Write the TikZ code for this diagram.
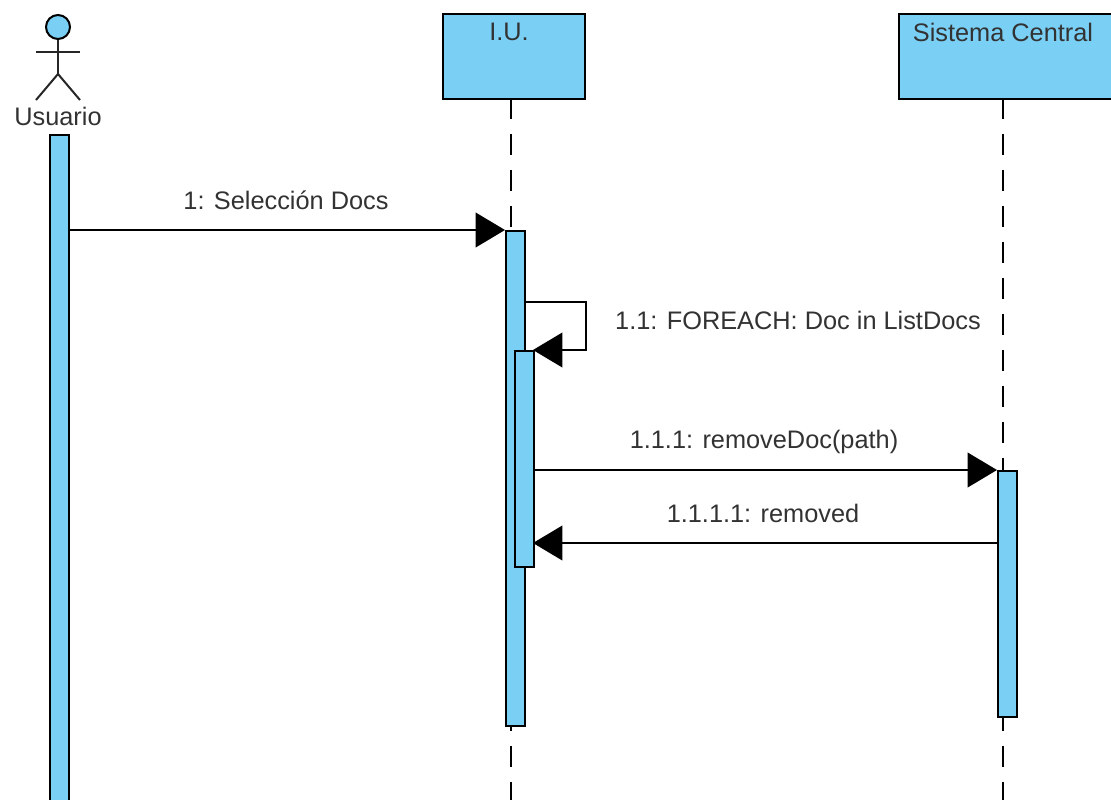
\documentclass[tikz,border=0pt]{standalone}
\usepackage{fontspec}
\setmainfont{Liberation Sans}
\usetikzlibrary{arrows.meta}
\definecolor{barblue}{RGB}{122,207,245}
\definecolor{inkgrey}{RGB}{50,50,50}
\tikzset{
  every node/.style={text=inkgrey,font=\fontsize{19}{23}\selectfont},
  headbox/.style={draw=black,line width=1.5pt,fill=barblue,anchor=north west,inner sep=0pt},
  activebar/.style={draw=black,line width=1.5pt,fill=barblue,anchor=north west,inner sep=0pt,minimum width=14.25pt},
  msg/.style={black,line width=1.2pt,-{Triangle[length=22pt,width=26pt]},shorten >=0pt},
  lifeline/.style={black,line width=1.2pt,dash pattern=on 16pt off 11pt},
  stick/.style={black!85,line width=1.5pt},
  msglabel/.style={inner sep=0pt}
}
\begin{document}
\begin{tikzpicture}[x=0.75pt,y=-0.75pt]
  \useasboundingbox (0,0) rectangle (1111,800);
  % heads
  \node[headbox,minimum width=106.5pt,minimum height=63.75pt] (iu) at (442,13) {};
  \node[headbox,minimum width=160pt,minimum height=63.75pt] (central) at (898,13) {};
  \node at (509,32) (iutext) {I.U.};
  \node at (1003,32) (centraltext) {Sistema Central};
  % actor
  \node[circle,draw=black,line width=1.5pt,fill=barblue,minimum size=18pt,inner sep=0pt] (head) at (58,27) {};
  \coordinate (hip) at (58,74);
  \coordinate (armL) at (36,52);
  \coordinate (armR) at (80,52);
  \coordinate (footL) at (36,100);
  \coordinate (footR) at (80,100);
  \draw[stick] (head) -- (hip);
  \draw[stick] (armL) -- (armR);
  \draw[stick] (footL) -- (hip) -- (footR);
  \node (usuario) at (58,116) {Usuario};
  % lifelines
  \coordinate (iuend) at (511,800);
  \coordinate (centralend) at (1003,800);
  \draw[lifeline] (511,98) -- (iuend);
  \draw[lifeline] (1003,98) -- (centralend);
  % bars
  \node[activebar,minimum height=510pt] (userbar) at (49,134) {};
  \node[activebar,minimum height=371.25pt] (iubar) at (505,230) {};
  \node[activebar,minimum height=162pt] (innerbar) at (514,350) {};
  \node[activebar,minimum height=184.5pt] (centralbar) at (997,470) {};
  % messages
  \coordinate (m1) at (68,230);
  \coordinate (m1end) at (505,230);
  \draw[msg] (m1) -- (m1end);
  \node[msglabel] at (286,200) (l1) {1: Selección Docs};
  \coordinate (loopa) at (524,302);
  \coordinate (loopb) at (586,302);
  \coordinate (loopc) at (586,350);
  \coordinate (loopd) at (533,350);
  \draw[msg] (loopa) -- (loopb) -- (loopc) -- (loopd);
  \node[msglabel] at (798,320) (l2) {1.1: FOREACH: Doc in ListDocs};
  \coordinate (m3) at (533,470);
  \coordinate (m3end) at (997,470);
  \draw[msg] (m3) -- (m3end);
  \node[msglabel] at (764,442) (l3) {1.1.1: removeDoc(path)};
  \coordinate (m4) at (997,543);
  \coordinate (m4end) at (533,543);
  \draw[msg] (m4) -- (m4end);
  \node[msglabel] at (763,513) (l4) {1.1.1.1: removed};
\end{tikzpicture}
\end{document}
